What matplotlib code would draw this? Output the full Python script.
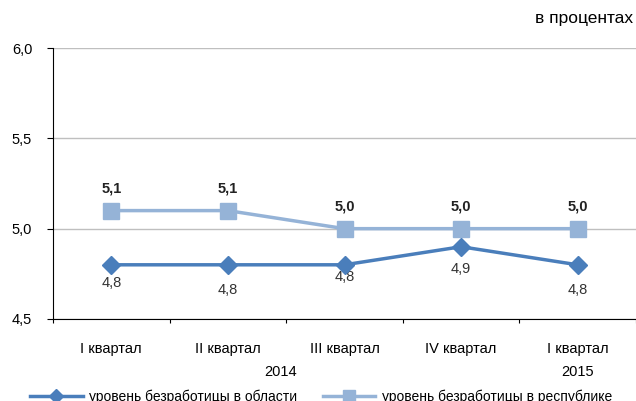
import numpy as np
import matplotlib.pyplot as plt

plt.rcParams['font.family'] = ['Liberation Sans', 'DejaVu Sans']

quarters = ['I квартал', 'II квартал', 'III квартал', 'IV квартал', 'I квартал']
years = ['2014', '2015']
oblast = [4.8, 4.8, 4.8, 4.9, 4.8]
republic = [5.1, 5.1, 5.0, 5.0, 5.0]
yticks = [4.5, 5.0, 5.5, 6.0]

c_dark = '#4A7EBB'
c_light = '#95B3D7'

fig = plt.figure(figsize=(6.36, 4.01), dpi=100)
ax = fig.add_axes([53/636, 1-319/401, 1-53/636, (319-48)/401])
x = np.arange(len(quarters))

ax.plot(x, republic, color=c_light, lw=2.5, marker='s', ms=11, zorder=3,
        label='уровень безработицы в республике')
ax.plot(x, oblast, color=c_dark, lw=2.5, marker='D', ms=9, zorder=4,
        label='уровень безработицы в области')

# label offsets (pixels) as in the reference
low_off = [-18, -25, -12, -22, -25]
for i in range(len(x)):
    ax.annotate(f'{republic[i]:.1f}'.replace('.', ','), (x[i], republic[i]),
                xytext=(0, 11), textcoords='offset points', ha='center',
                va='bottom', fontsize=10.5, fontweight='bold', color='#222222')
    ax.annotate(f'{oblast[i]:.1f}'.replace('.', ','), (x[i], oblast[i]),
                xytext=(0, low_off[i]*0.72), textcoords='offset points',
                ha='center', va='center', fontsize=10.5, color='#333333')

ax.set_xlim(-0.5, 4.47)
ax.set_ylim(4.5, 6.0)
ax.set_yticks(yticks)
ax.set_yticklabels([f'{v:.1f}'.replace('.', ',') for v in yticks], fontsize=10.5)
ax.yaxis.grid(True, color='#BFBFBF', lw=1)
ax.set_axisbelow(True)
ax.set_xticks(np.arange(-0.5, 4.6, 1))
ax.set_xticklabels([])
ax.tick_params(axis='x', length=3, direction='out')
ax.tick_params(axis='y', length=4, direction='out', pad=11)
for s in ['top', 'right']:
    ax.spines[s].set_visible(False)

for i, q in enumerate(quarters):
    ax.text(x[i], 4.5 - 0.125, q, ha='center', va='top', fontsize=10.5)
ax.text(1.45, 4.5 - 0.255, years[0], ha='center', va='top', fontsize=10.5)
ax.text(4.0, 4.5 - 0.255, years[1], ha='center', va='top', fontsize=10.5)

fig.text(0.996, 1-18/401, 'в процентах', ha='right', va='center', fontsize=12.5)

h, l = ax.get_legend_handles_labels()
fig.legend([h[1], h[0]], [l[1], l[0]], loc='center', bbox_to_anchor=(0.505, 1-397/401),
           ncol=2, frameon=False, fontsize=10, handlelength=3.8, columnspacing=1.8,
           handletextpad=0.5, markerscale=0.8)

fig.savefig('out.png', dpi=100)
